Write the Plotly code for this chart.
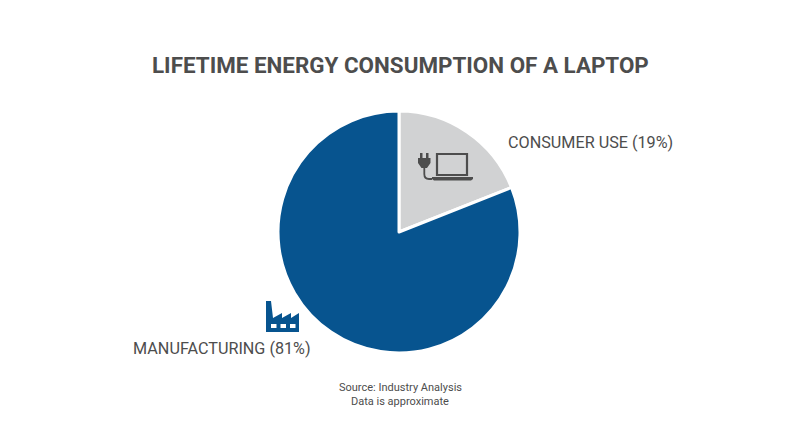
import plotly.graph_objects as go

categories = ["CONSUMER USE", "MANUFACTURING"]
values = [19, 81]
colors = ["#d1d2d3", "#07548f"]
title_text = "LIFETIME ENERGY CONSUMPTION OF A LAPTOP"
labels_text = ["CONSUMER USE (19%)", "MANUFACTURING (81%)"]
source_lines = ["Source: Industry Analysis", "Data is approximate"]

W, H = 800, 447
TXT = "#4d4d4d"

def X(p): return p / W
def Y(p): return 1 - p / H

def path(points, close=True):
    s = "M " + " L ".join(f"{X(a):.5f},{Y(b):.5f}" for a, b in points)
    return s + (" Z" if close else "")

fig = go.Figure(go.Pie(
    labels=categories, values=values, sort=False, direction="clockwise", rotation=0,
    marker=dict(colors=colors, line=dict(color="white", width=3)),
    textinfo="none", hoverinfo="label+percent", showlegend=False,
    domain=dict(x=[X(278), X(520)], y=[Y(353), Y(111)]),
))

shapes = []
# factory icon
shapes.append(dict(type="path", xref="paper", yref="paper", fillcolor="#07548f", line_width=0,
    path=path([(266,332),(266,301),(271,301),(273,318),(282,313),(282,318),(291,313),(291,318),(299,313),(299,332)])))
for x0 in (271, 280.5, 290):
    shapes.append(dict(type="rect", xref="paper", yref="paper", fillcolor="white", line_width=0,
        x0=X(x0), x1=X(x0+5.5), y0=Y(328), y1=Y(324)))
# laptop icon
shapes.append(dict(type="rect", xref="paper", yref="paper", fillcolor="rgba(0,0,0,0)",
    line=dict(color=TXT, width=2.2), x0=X(437), x1=X(467), y0=Y(175), y1=Y(154)))
shapes.append(dict(type="path", xref="paper", yref="paper", fillcolor=TXT, line_width=0,
    path=path([(432,177),(473,177),(473,179),(471,180.5),(434,180.5),(432,179)])))
# plug icon
shapes.append(dict(type="path", xref="paper", yref="paper", fillcolor=TXT, line_width=0,
    path=path([(418,158),(420,158),(420,153),(422.5,153),(422.5,158),(426,158),(426,153),(428.5,153),(428.5,158),(430.5,158),(430.5,163),(427,168),(421.5,168),(418,163)])))
shapes.append(dict(type="path", xref="paper", yref="paper", fillcolor="rgba(0,0,0,0)",
    line=dict(color=TXT, width=1.8),
    path=f"M {X(424.3):.5f},{Y(167):.5f} L {X(424.3):.5f},{Y(174):.5f} Q {X(424.3):.5f},{Y(179):.5f} {X(429):.5f},{Y(179):.5f} L {X(432):.5f},{Y(179):.5f}"))

def note(text, x, y, size, anchor="left", bold=False):
    fig.add_annotation(text=f"<b>{text}</b>" if bold else text, xref="paper", yref="paper",
        x=X(x), y=Y(y), xanchor=anchor, yanchor="middle", showarrow=False,
        font=dict(family="Roboto", size=size, color=TXT))

note(title_text, 400, 65, 22.4, "center", True)
note(labels_text[0], 506, 142.5, 16.2)
note(labels_text[1], 131, 348, 16.2)
note(source_lines[0], 400, 387, 11, "center")
note(source_lines[1], 400, 401, 11, "center")

fig.update_layout(width=W, height=H, margin=dict(l=0, r=0, t=0, b=0),
    paper_bgcolor="white", shapes=shapes)
fig.write_html("out.html", config={"displayModeBar": False},
               post_script="document.body.style.margin='0';")
